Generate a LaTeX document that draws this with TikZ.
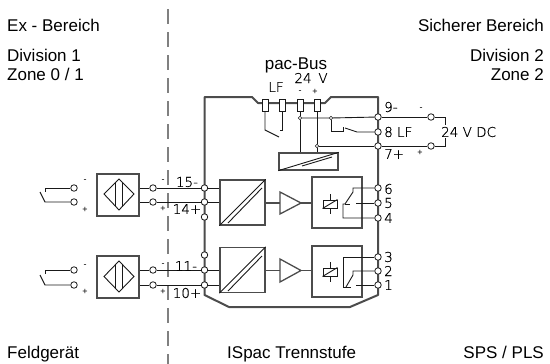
\documentclass[tikz,border=0pt]{standalone}
\usepackage{fontspec}
\setmainfont{Liberation Sans}
\setsansfont[FakeBold=0.6]{DejaVu Sans ExtraLight}
\begin{document}
\tikzset{
  wire/.style={line width=0.9pt, black!90},
  boxline/.style={line width=1.3pt, black!70},
  housing/.style={line width=2pt, black!70},
  term/.style={circle, draw=black!90, line width=0.8pt, fill=white, inner sep=0pt, minimum size=6.5pt},
  clamp/.style={draw=black!90, line width=1pt, fill=white, inner sep=0pt, minimum width=6pt, minimum height=12pt},
  dot/.style={circle, draw=black!90, line width=0.7pt, fill=white, inner sep=0pt, minimum size=3.5pt},
  areatext/.style={font=\fontsize{17}{19}\selectfont, inner sep=0pt},
  cadtext/.style={font=\sffamily\fontsize{13.5}{15}\selectfont, inner sep=0pt, text=black},
  signtext/.style={font=\fontsize{9}{9}\selectfont, inner sep=0pt}
}
\begin{tikzpicture}[x=1pt, y=-1pt]
              \useasboundingbox (0,0) rectangle (550,364);
              % Area border
              \draw[line width=1.5pt, black!50, dash pattern=on 15pt off 8pt] (168,9)--(168,364);
              % Housing
              \draw[housing, line join=round] (331,97)--(378,97)--(378,295)--(350,307)--(229,307)--(204.5,295)--(204.5,97)--(252,97)--(258,103)--(325,103)--cycle;
              % Bus clamps
              \node[clamp] (lfa) at (265,105) {};
              \node[clamp] (lfb) at (282,105) {};
              \node[clamp] (minus) at (300,105) {};
              \node[clamp] (plus) at (317,105) {};
              % Terminals right
              \node[term] (t9) at (378,117) {};
              \node[term] (t8) at (378,132) {};
              \node[term] (t7) at (378,146) {};
              \node[term] (t6) at (378,188) {};
              \node[term] (t5) at (378,203) {};
              \node[term] (t4) at (378,218) {};
              \node[term] (t3) at (378,257) {};
              \node[term] (t2) at (378,271) {};
              \node[term] (t1) at (378,285) {};
              % Terminals left
              \node[term] (t15) at (204.5,188) {};
              \node[term] (t14) at (204.5,202) {};
              \node[term] (tua) at (204.5,217) {};
              \node[term] (tub) at (204.5,255) {};
              \node[term] (t11) at (204.5,270) {};
              \node[term] (t10) at (204.5,285) {};
              % Supply
              \node[dot] (jminus) at (300,118) {};
              \node[dot] (jlf) at (331,118) {};
              \node[dot] (jplus) at (317,146) {};
              \node[draw, boxline, minimum width=59pt, minimum height=17pt, inner sep=0pt] (supply) at (308.5,161.5) {};
              \draw[wire] (minus)--(jminus)--(jminus|-supply.north);
              \draw[wire] (plus)--(jplus)--(jplus|-supply.north);
              \draw[wire] (jminus)--(jlf)--(t9);
              \draw[wire] (jplus)--(t7);
              \draw[wire] (supply.south west)--(supply.north east);
              \draw[wire] (302,166)--(332,157);
              % LF contacts
              \coordinate (lfacorner) at (265,130);
              \coordinate (lfaend) at (279,137);
              \coordinate (lfbend) at (282,130);
              \draw[wire] (lfa)--(lfacorner)--(lfaend);
              \draw[wire] (lfb)--(lfbend)--++(-2,0);
              \coordinate (lfcorner) at (331,131);
              \coordinate (lfc) at (343,131);
              \coordinate (lfd) at (357,132);
              \draw[wire] (jlf)--(lfcorner)--(lfc)--++(0,-4);
              \draw[wire] (345,128)--(lfd)--(t8);
              % Supply outside
              \node[term] (vminus) at (431,117) {};
              \node[term] (vplus) at (431,146) {};
              \node[cadtext, anchor=west] (dc) at (441,132) {24 V DC};
              \coordinate (vmc) at (445,117);
              \coordinate (vpc) at (445,146);
              \draw[wire] (t9)--(vminus)--(vmc)--(445,125);
              \draw[wire] (t7)--(vplus)--(vpc)--(445,138);
              % Converters
              \node[draw, boxline, minimum size=45pt, inner sep=0pt] (conva) at (242.5,202.5) {};
              \node[draw, boxline, minimum size=45pt, inner sep=0pt] (convb) at (242.5,270) {};
              \draw[wire] (conva.south west)--(conva.north east);
              \draw[wire] (228,223)--(262,188);
              \draw[wire] (convb.south west)--(convb.north east);
              \draw[wire] (228,291)--(262,256);
              \draw[wire] (t15)--(t15-|conva.west);
              \draw[wire] (t14)--(t14-|conva.west);
              \draw[wire] (t11)--(t11-|convb.west);
              \draw[wire] (t10)--(t10-|convb.west);
              % Amplifiers
              \coordinate (ampain) at (280,203);
              \coordinate (ampaout) at (301,203);
              \coordinate (ampbin) at (280,270.5);
              \coordinate (ampbout) at (301,270.5);
              \draw[boxline, line join=miter] (280,192)--(ampaout)--(280,214)--cycle;
              \draw[boxline, line join=miter] (280,259)--(ampbout)--(280,282)--cycle;
              % Relays
              \node[draw, boxline, minimum width=50pt, minimum height=51pt, inner sep=0pt] (rela) at (337,202.5) {};
              \node[draw, boxline, minimum width=50pt, minimum height=51pt, inner sep=0pt] (relb) at (337,271.5) {};
              \draw[boxline] (conva.east|-ampain)--(ampain);
              \draw[boxline] (ampaout)--(ampaout-|rela.west);
              \draw[boxline] (convb.east|-ampbin)--(ampbin);
              \draw[boxline] (ampbout)--(ampbout-|relb.west);
              \node[draw, wire, fill=white, minimum width=14pt, minimum height=8pt, inner sep=0pt] (coila) at (330,204) {};
              \node[draw, wire, fill=white, minimum width=14pt, minimum height=8pt, inner sep=0pt] (coilb) at (330,272) {};
              \draw[wire] (coila.south west)--(coila.north east);
              \draw[wire] (coilb.south west)--(coilb.north east);
              \draw[wire] (coila.north)--++(0,-6);
              \draw[wire] (coila.south)--++(0,6);
              \draw[wire] (coilb.north)--++(0,-6);
              \draw[wire] (coilb.south)--++(0,6);
              % Upper contact
              \coordinate (sixc) at (353,188);
              \coordinate (fourc) at (343,218);
              \coordinate (fourd) at (343,204);
              \draw[wire] (t6)--(sixc)--(353,192)--(345,204)--(fourd)--(fourc)--(t4);
              \draw[wire] (345,204)--(350,204);
              \draw[wire] (356,203)--(t5);
              % Lower contact
              \coordinate (threec) at (343,257);
              \coordinate (threed) at (343,287);
              \coordinate (twoc) at (353,271);
              \draw[wire] (t3)--(threec)--(threed)--(351,287);
              \draw[wire] (t2)--(twoc)--(353,275)--(346,287);
              \draw[wire] (356,285)--(t1);
              % Field devices
              \node[draw, boxline, minimum size=42pt, inner sep=0pt] (senaa) at (118,195) {};
              \node[draw, boxline, minimum size=42pt, inner sep=0pt] (senbb) at (118,277) {};
              \draw[wire] (119,179)--(134,194)--(119,210)--(104,194)--cycle;
              \draw[wire] (115,183)--(115,206);
              \draw[wire] (122,182)--(122,207);
              \draw[wire] (119,261)--(134,276.5)--(119,292)--(104,276.5)--cycle;
              \draw[wire] (115,265)--(115,288);
              \draw[wire] (122,264)--(122,289);
              % Field lines
              \node[term] (ra) at (153,188) {};
              \node[term] (rb) at (153,202) {};
              \node[term] (rc) at (153,270) {};
              \node[term] (rd) at (153,285) {};
              \draw[wire] (ra)--(ra-|senaa.east);
              \draw[wire] (rb)--(rb-|senaa.east);
              \draw[wire] (rc)--(rc-|senbb.east);
              \draw[wire] (rd)--(rd-|senbb.east);
              \draw[wire] (ra)--(t15);
              \draw[wire] (rb)--(t14);
              \draw[wire] (rc)--(t11);
              \draw[wire] (rd)--(t10);
              % Switches
              \node[term] (la) at (74,188) {};
              \node[term] (lb) at (74,202) {};
              \node[term] (lc) at (74,270) {};
              \node[term] (ld) at (74,285) {};
              \draw[wire] (la)--(45,188)--(45,192);
              \draw[wire] (lb)--(45,202)--(40,192);
              \draw[wire] (lc)--(45,270)--(45,274);
              \draw[wire] (ld)--(45,285)--(40,275);
              % Labels
              \node[areatext, anchor=base west] (exarea) at (7,31) {Ex - Bereich};
              \node[areatext, anchor=base west] (div1) at (7,61) {Division 1};
              \node[areatext, anchor=base west] (zone1) at (7,80) {Zone 0 / 1};
              \node[areatext, anchor=base east] (safearea) at (544,31) {Sicherer Bereich};
              \node[areatext, anchor=base east] (div2) at (544,61) {Division 2};
              \node[areatext, anchor=base east] (zone2) at (544,80) {Zone 2};
              \node[areatext, anchor=base west] (field) at (7,358) {Feldgerät};
              \node[areatext, anchor=base west] (ispac) at (227,358) {ISpac Trennstufe};
              \node[areatext, anchor=base east] (plc) at (544,358) {SPS / PLS};
              \node[areatext, anchor=base] (bus) at (296,69) {pac-Bus};
              \node[cadtext] (lbllf) at (276,87) {LF};
              \node[cadtext] (lbl24) at (303,78) {24};
              \node[cadtext] (lblv) at (323,78) {V};
              \node[signtext] at (300,92) {-};
              \node[signtext] at (315,92) {+};
              \node[cadtext, anchor=west] (n9) at (384,107) {9-};
              \node[cadtext, anchor=west] (n8) at (384,132) {8 LF};
              \node[cadtext, anchor=west] (n7) at (384,154) {7+};
              \node[signtext] at (421,109) {-};
              \node[signtext] at (420,153) {+};
              \node[cadtext, anchor=west] (n6) at (384,189) {6};
              \node[cadtext, anchor=west] (n5) at (384,203) {5};
              \node[cadtext, anchor=west] (n4) at (384,218) {4};
              \node[cadtext, anchor=west] (n3) at (384,257) {3};
              \node[cadtext, anchor=west] (n2) at (384,271) {2};
              \node[cadtext, anchor=west] (n1) at (384,285) {1};
              \node[cadtext] (n15) at (187,182) {15-};
              \node[cadtext] (n14) at (187,209) {14+};
              \node[cadtext] (n11) at (186,266) {11-};
              \node[cadtext] (n10) at (187,293) {10+};
              \node[signtext] at (85,181) {-};
              \node[signtext] at (85,210) {+};
              \node[signtext] at (85,266) {-};
              \node[signtext] at (85,292) {+};
              \node[signtext] at (163,181) {-};
              \node[signtext] at (163,209) {+};
              \node[signtext] at (163,265) {-};
              \node[signtext] at (163,292) {+};
      \end{tikzpicture}
\end{document}
